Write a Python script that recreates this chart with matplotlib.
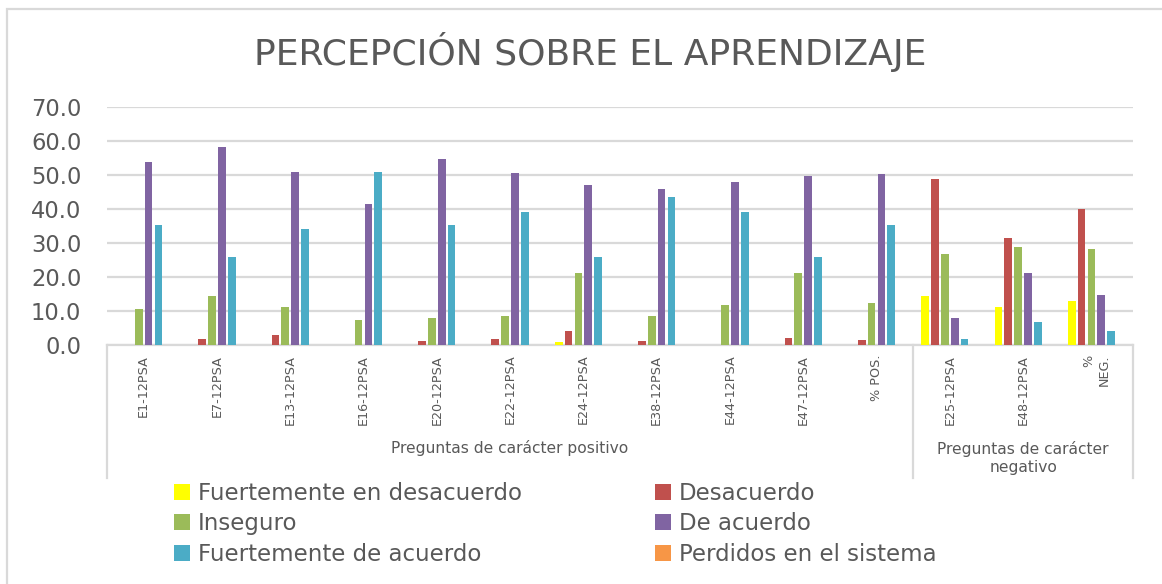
import matplotlib
matplotlib.use('Agg')
import matplotlib.pyplot as plt
import numpy as np
from matplotlib import transforms
from matplotlib.patches import Rectangle, Patch

categories = ["E1-12PSA", "E7-12PSA", "E13-12PSA", "E16-12PSA", "E20-12PSA",
              "E22-12PSA", "E24-12PSA", "E38-12PSA", "E44-12PSA", "E47-12PSA",
              "% POS.", "E25-12PSA", "E48-12PSA", "%\nNEG."]
groups = ["Preguntas de carácter positivo", "Preguntas de carácter\nnegativo"]
group_sizes = [11, 3]

series_names = ["Fuertemente en desacuerdo", "Desacuerdo", "Inseguro",
                "De acuerdo", "Fuertemente de acuerdo", "Perdidos en el sistema"]
fuertemente_desacuerdo = [0, 0, 0, 0, 0, 0, 1.0, 0, 0, 0, 0, 14.3, 11.3, 12.9]
desacuerdo = [0, 1.8, 3.0, 0, 1.1, 1.8, 4.2, 1.1, 0, 2.2, 1.5, 48.7, 31.6, 39.9]
inseguro = [10.6, 14.4, 11.3, 7.5, 7.9, 8.6, 21.3, 8.6, 11.7, 21.3, 12.5, 26.9, 28.9, 28.1]
de_acuerdo = [53.7, 58.2, 51.0, 41.5, 54.8, 50.6, 47.1, 46.0, 47.9, 49.8, 50.2, 7.9, 21.3, 14.8]
fuertemente_acuerdo = [35.3, 25.8, 34.2, 51.0, 35.3, 39.1, 25.8, 43.4, 39.1, 25.8, 35.3, 1.8, 6.7, 4.1]
perdidos = [0] * 14

series = [fuertemente_desacuerdo, desacuerdo, inseguro, de_acuerdo,
          fuertemente_acuerdo, perdidos]
colors = ["#FFFF00", "#C0504D", "#9BBB59", "#8064A2", "#4BACC6", "#F79646"]

TXT = "#595959"
GRID = "#D9D9D9"
FONT = "DejaVu Sans"

W, H = 1162, 584
fig = plt.figure(figsize=(W / 100, H / 100), dpi=100)
fig.patch.set_facecolor("white")

# chart frame
fig.add_artist(Rectangle((7 / W, -0.2), 1.3, 1.2 - 9 / H,
                         transform=fig.transFigure, fill=False,
                         edgecolor=GRID, lw=1.6))

left, right = 107 / W, 1133 / W
bottom, top = 1 - 345 / H, 1 - 107 / H
ax = fig.add_axes([left, bottom, right - left, top - bottom])

x = np.arange(len(categories))
pitch = 0.134
width = 0.105
n = len(series)
for i, (vals, c) in enumerate(zip(series, colors)):
    off = (i - (n - 1) / 2) * pitch
    ax.bar(x + off, vals, width=width, color=c, label=series_names[i],
           zorder=3)

ax.set_xlim(-0.5, len(categories) - 0.5)
ax.set_ylim(0, 70)
yt = np.arange(0, 71, 10)
ax.set_yticks(yt)
ax.set_yticklabels([f"{v:.1f}" for v in yt], family=FONT)
ax.yaxis.grid(True, color=GRID, lw=1.6, zorder=0)
ax.set_axisbelow(True)
for s in ["top", "right", "left"]:
    ax.spines[s].set_visible(False)
ax.spines["bottom"].set_color(GRID)
ax.spines["bottom"].set_linewidth(1.6)
ax.tick_params(axis="y", length=0, pad=18.5, labelsize=16.3, labelcolor=TXT)

ax.set_xticks(x)
ax.set_xticklabels(categories, rotation=90, fontsize=9.2, color=TXT,
                   family=FONT, multialignment="right")
ax.tick_params(axis="x", length=0, pad=7)

# multi-level category box
tr = transforms.blended_transform_factory(ax.transData, ax.transAxes)
ph = 345 - 107
ybot = -(478 - 345) / ph
bounds = np.concatenate([[0], np.cumsum(group_sizes)]) - 0.5
for bx in bounds:
    ax.plot([bx, bx], [0, ybot], transform=tr, color=GRID, lw=1.6,
            clip_on=False)
for gi, g in enumerate(groups):
    cx = (bounds[gi] + bounds[gi + 1]) / 2
    yy = -(448 - 345) / ph if "\n" not in g else -(458 - 345) / ph
    ax.text(cx, yy, g, transform=tr, ha="center", va="center",
            fontsize=11.2, color=TXT, family=FONT, linespacing=1.25)

fig.text(590 / W, 1 - 52 / H, "PERCEPCIÓN SOBRE EL APRENDIZAJE",
         ha="center", va="center", fontsize=26, color=TXT, family=FONT)

order = [0, 2, 4, 1, 3, 5]
handles = [Patch(facecolor=colors[i], edgecolor="none") for i in order]
labels = [series_names[i] for i in order]
leg = fig.legend(handles, labels, ncol=2, loc="upper left",
                 bbox_to_anchor=(174 / W, 1 - 482 / H), frameon=False,
                 prop={"family": FONT, "size": 16.5}, labelcolor=TXT,
                 handlelength=0.7, handleheight=0.7, handletextpad=0.35,
                 columnspacing=5.8, labelspacing=0.32, borderaxespad=0,
                 borderpad=0)

fig.savefig("out.png", dpi=100, facecolor="white")
